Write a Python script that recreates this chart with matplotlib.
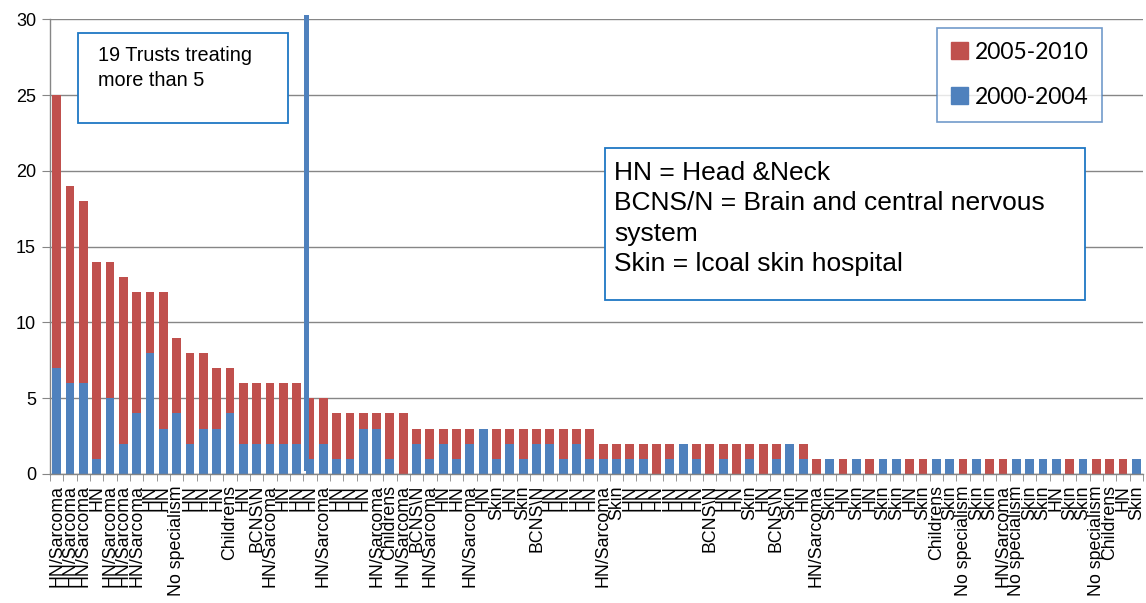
import matplotlib.pyplot as plt
from matplotlib.patches import Patch, Rectangle

# Trust specialism for each trust, ordered by total number treated
trusts = ["HN/Sarcoma", "HN/Sarcoma", "HN/Sarcoma", "HN", "HN/Sarcoma",
          "HN/Sarcoma", "HN/Sarcoma", "HN", "HN", "No specialism",
          "HN", "HN", "HN", "Childrens", "HN",
          "BCNS\\N", "HN/Sarcoma", "HN", "HN", "HN",
          "HN/Sarcoma", "HN", "HN", "HN", "HN/Sarcoma",
          "Childrens", "HN/Sarcoma", "BCNS\\N", "HN/Sarcoma", "HN",
          "HN", "HN/Sarcoma", "HN", "Skin", "HN",
          "Skin", "BCNS\\N", "HN", "HN", "HN",
          "HN", "HN/Sarcoma", "Skin", "HN", "HN",
          "HN", "HN", "HN", "HN", "BCNS\\N",
          "HN", "HN", "Skin", "HN", "BCNS\\N",
          "Skin", "HN", "HN/Sarcoma", "Skin", "HN",
          "Skin", "HN", "Skin", "Skin", "HN",
          "Skin", "Childrens", "Skin", "No specialism", "Skin",
          "Skin", "HN/Sarcoma", "No specialism", "Skin", "Skin",
          "HN", "Skin", "Skin", "No specialism", "Childrens",
          "HN", "Skin"]

# Cases treated 2000-2004
early = [7, 6, 6, 1, 5, 2, 4, 8, 3, 4,
         2, 3, 3, 4, 2, 2, 2, 2, 2, 1,
         2, 1, 1, 3, 3, 1, 0, 2, 1, 2,
         1, 2, 3, 1, 2, 1, 2, 2, 1, 2,
         1, 1, 1, 1, 1, 0, 1, 2, 1, 0,
         1, 0, 1, 0, 1, 2, 1, 0, 1, 0,
         1, 0, 1, 1, 0, 0, 1, 1, 0, 1,
         0, 0, 1, 1, 1, 1, 0, 1, 0, 0,
         0, 1]

# Cases treated 2005-2010
late = [18, 13, 12, 13, 9, 11, 8, 4, 9, 5,
        6, 5, 4, 3, 4, 4, 4, 4, 4, 4,
        3, 3, 3, 1, 1, 3, 4, 1, 2, 1,
        2, 1, 0, 2, 1, 2, 1, 1, 2, 1,
        2, 1, 1, 1, 1, 2, 1, 0, 1, 2,
        1, 2, 1, 2, 1, 0, 1, 1, 0, 1,
        0, 1, 0, 0, 1, 1, 0, 0, 1, 0,
        1, 1, 0, 0, 0, 0, 1, 0, 1, 1,
        1, 0]

blue = '#4F81BD'
red = '#C0504D'
grey = '#868686'

W, H = 1146, 603
fig = plt.figure(figsize=(W / 100, H / 100), dpi=100)
ax = fig.add_axes([50 / W, 1 - 474 / H, 1093 / W, (474 - 19.3) / H])

x = list(range(len(trusts)))
ax.bar(x, early, width=0.66, color=blue, label='2000-2004', zorder=2)
ax.bar(x, late, width=0.66, bottom=early, color=red, label='2005-2010', zorder=2)

ax.set_xlim(-0.5, len(trusts) - 0.5)
ax.set_ylim(0, 30)
ax.set_yticks(range(0, 31, 5))
ax.yaxis.grid(True, color=grey, linewidth=1)
ax.set_axisbelow(True)

ax.set_xticks(x)
ax.set_xticklabels(trusts, rotation=90, fontsize=12.8, family='Liberation Sans')
ax.set_xticks([i - 0.5 for i in range(len(trusts) + 1)], minor=True)
ax.tick_params(axis='x', which='major', length=0, pad=8)
ax.tick_params(axis='x', which='minor', length=5, color=grey)
ax.tick_params(axis='y', length=6, color=grey, labelsize=13, pad=4)
for lab in ax.get_yticklabels():
    lab.set_family('Liberation Sans')

for side in ['top', 'right']:
    ax.spines[side].set_visible(False)
for side in ['left', 'bottom']:
    ax.spines[side].set_color(grey)
    ax.spines[side].set_linewidth(1)

# cut-off between trusts treating more than 5 and the rest
ax.plot([18.7, 18.7], [0.4, 30.15], color=blue, linewidth=3.6, clip_on=False, zorder=3)

# legend with the later period on top
handles = [Patch(color=red), Patch(color=blue)]
leg = ax.legend(handles, ['2005-2010', '2000-2004'], loc='upper left',
                bbox_to_anchor=(937 / W, 1 - 28 / H), bbox_transform=fig.transFigure,
                prop={'family': 'Lato', 'size': 16.5}, frameon=True, fancybox=False,
                handlelength=0.75, handleheight=0.75, handletextpad=0.3,
                labelspacing=1.05, borderpad=0.6, borderaxespad=0)
leg.get_frame().set_edgecolor(blue)
leg.get_frame().set_linewidth(1.2)

# annotation boxes
fig.patches.append(Rectangle((78 / W, 1 - 123 / H), 210 / W, 90 / H, transform=fig.transFigure,
                             facecolor='white', edgecolor='#1F77C4', linewidth=1.3, zorder=5))
fig.text(98 / W, 1 - 46 / H, "19 Trusts treating\nmore than 5", fontsize=14.3,
         family='Liberation Sans', va='top', ha='left', linespacing=1.4, zorder=6)

fig.patches.append(Rectangle((605 / W, 1 - 300 / H), 480 / W, 152 / H, transform=fig.transFigure,
                             facecolor='white', edgecolor='#1F77C4', linewidth=1.3, zorder=5))
fig.text(614 / W, 1 - 161 / H,
         "HN = Head &Neck\nBCNS/N = Brain and central nervous\nsystem\nSkin = lcoal skin hospital",
         fontsize=19, family='Liberation Sans', va='top', ha='left', linespacing=1.33, zorder=6)

fig.savefig('out.png', dpi=100)
